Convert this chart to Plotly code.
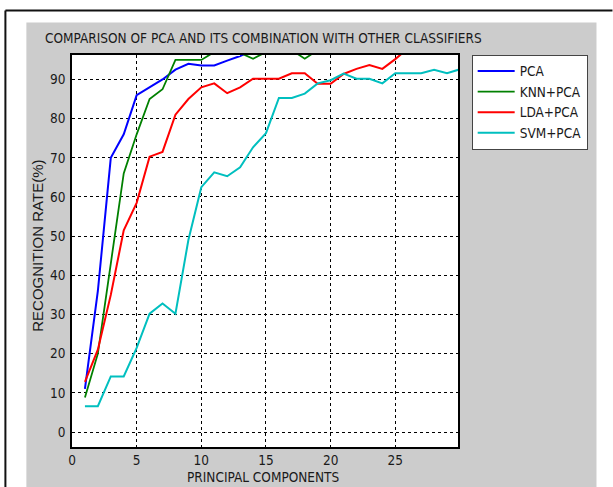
import plotly.graph_objects as go

# ---------------- data ----------------
components = list(range(1, 31))
pca = [11, 36, 70, 76, 86, 88, 90, 92.5, 94, 93.6, 93.6, 94.8, 96, 97.5, 98.5,
       99, 99, 99, 99, 99, 99, 99, 99, 99, 99, 99, 99, 99, 99, 99]
knn_pca = [8.8, 20, 43, 66, 76, 85, 87.5, 95, 95, 95, 97, 98, 96.8, 95.3, 97,
           98, 97.5, 95.3, 97.5, 98.5, 99, 99, 99, 99, 99, 99, 99, 99, 99, 99]
lda_pca = [12.8, 21, 35, 51.5, 58.5, 70.3, 71.5, 81, 85, 88, 89, 86.5, 88, 90.2, 90.2,
           90.2, 91.6, 91.6, 88.9, 88.9, 91.4, 92.7, 93.7, 92.7, 95.2, 98, 99, 99, 99, 99]
svm_pca = [6.6, 6.6, 14.2, 14.2, 21.5, 30.2, 32.8, 30.2, 49, 62.5, 66.3, 65.3, 67.6, 72.7, 76.3,
           85.3, 85.3, 86.4, 89, 89.8, 91.5, 90.2, 90.2, 89, 91.6, 91.6, 91.6, 92.5, 91.6, 92.6]

series_names = ["PCA", "KNN+PCA", "LDA+PCA", "SVM+PCA"]
series_values = [pca, knn_pca, lda_pca, svm_pca]
series_colors = ["#0000ff", "#008000", "#ff0000", "#00bfbf"]
series_widths = [2, 1.8, 2, 2]

x_ticks = [0, 5, 10, 15, 20, 25]
y_ticks = [0, 10, 20, 30, 40, 50, 60, 70, 80, 90]

title_text = "COMPARISON OF PCA AND ITS COMBINATION WITH OTHER CLASSIFIERS"
x_title = "PRINCIPAL COMPONENTS"
y_title = "RECOGNITION RATE(%)"

FONT = "DejaVu Sans Condensed, Liberation Sans, sans-serif"
YFONT = "Liberation Sans, Arial, sans-serif"
FS = 13.5
TXT = "#1a1a1a"

# ---------------- layout geometry (pixels) ----------------
W, H = 613, 487
L, R, T, B = 71.7, 458.3, 54.5, 446.7
pw, ph = R - L, B - T


def px(xp):
    return (xp - L) / pw


def py(yp):
    return (B - yp) / ph


fig = go.Figure()
for name, vals, col, lw in zip(series_names, series_values, series_colors, series_widths):
    fig.add_trace(go.Scatter(x=components, y=vals, mode="lines", name=name,
                             line=dict(color=col, width=lw)))

grid = dict(showgrid=True, gridcolor="#000000", gridwidth=1, griddash="3px,3px",
            zeroline=False, showline=True, linecolor="#000000", linewidth=1.5,
            mirror=True, ticks="", tickfont=dict(family=FONT, size=FS, color=TXT))

fig.update_xaxes(range=[0, 29.85], tickmode="array", tickvals=x_ticks, **grid)
fig.update_yaxes(range=[-3.83, 96.25], tickmode="array", tickvals=y_ticks, **grid,
                 ticklabelstandoff=2)

gray = "#cccccc"
gx0, gx1, gy0, gy1 = 26, 597, 22, 487
shapes = [
    dict(type="rect", xref="paper", yref="paper", x0=px(gx0), x1=px(gx1), y0=py(gy0), y1=py(T),
         fillcolor=gray, line_width=0, layer="below"),
    dict(type="rect", xref="paper", yref="paper", x0=px(gx0), x1=px(gx1), y0=py(B), y1=py(gy1),
         fillcolor=gray, line_width=0, layer="below"),
    dict(type="rect", xref="paper", yref="paper", x0=px(gx0), x1=px(L), y0=py(B), y1=py(T),
         fillcolor=gray, line_width=0, layer="below"),
    dict(type="rect", xref="paper", yref="paper", x0=px(R), x1=px(gx1), y0=py(B), y1=py(T),
         fillcolor=gray, line_width=0, layer="below"),
    dict(type="line", xref="paper", yref="paper", x0=px(5), x1=px(W), y0=py(10), y1=py(10),
         line=dict(color="#111111", width=2)),
    dict(type="line", xref="paper", yref="paper", x0=px(5), x1=px(5), y0=py(10), y1=py(H),
         line=dict(color="#111111", width=2)),
]

annotations = [
    dict(text=title_text, xref="paper", yref="paper", x=px(263.5), y=py(37.5),
         xanchor="center", yanchor="middle", showarrow=False,
         font=dict(family=FONT, size=FS, color=TXT)),
    dict(text=x_title, xref="paper", yref="paper", x=px(263), y=py(477),
         xanchor="center", yanchor="middle", showarrow=False,
         font=dict(family=FONT, size=FS, color=TXT)),
    dict(text=y_title, xref="paper", yref="paper", x=px(37), y=py(245),
         xanchor="center", yanchor="middle", showarrow=False, textangle=-90,
         font=dict(family=YFONT, size=15, color=TXT)),
]

fig.update_layout(
    width=W, height=H, autosize=False,
    margin=dict(l=L, r=W - R, t=T, b=H - B, pad=0),
    paper_bgcolor="#ffffff", plot_bgcolor="#ffffff",
    shapes=shapes, annotations=annotations,
    showlegend=True,
    legend=dict(x=px(472), y=py(54.3), xanchor="left", yanchor="top",
                bgcolor="#ffffff", bordercolor="#444444", borderwidth=1,
                itemwidth=37,
                font=dict(family=FONT, size=FS, color=TXT), tracegroupgap=0),
    hovermode=False,
)

fig.write_html("out.html", config={"displayModeBar": False},
               post_script="document.body.style.margin='0px';")
